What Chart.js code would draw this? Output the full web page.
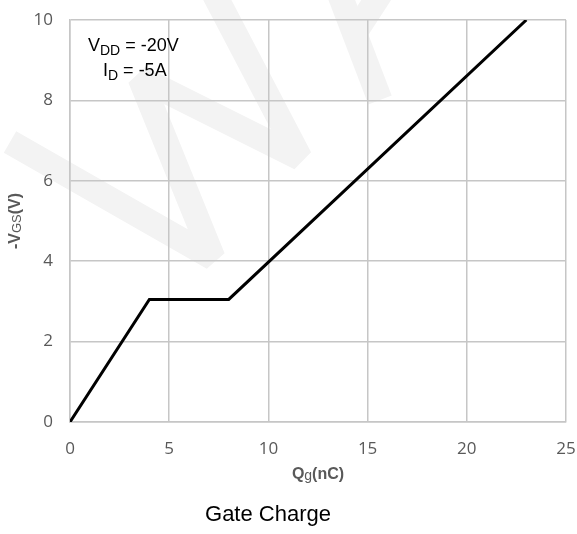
<!DOCTYPE html>
<html><head><meta charset="utf-8">
<script src="https://cdn.jsdelivr.net/npm/chart.js@4.4.0/dist/chart.umd.min.js"></script>
<style>html,body{margin:0;padding:0;background:#fff}#wrap{position:relative;width:577px;height:534px}</style>
</head><body><div id="wrap"><canvas id="c"></canvas></div>
<script>
// ---- data ----
const qg = [0, 4, 8, 23];          // gate charge, nC
const vgs = [0, 3.05, 3.05, 10];   // -VGS, V
const xTicks = [0, 5, 10, 15, 20, 25];
const yTicks = [0, 2, 4, 6, 8, 10];
const chartTitle = 'Gate Charge';
const xTitle = [['Q', false], ['g', true], ['(nC)', false]];
const yTitle = [['-V', false], ['GS', true], ['(V)', false]];
const note1 = [['V', false], ['DD', true], [' = -20V', false]];
const note2 = [['I', false], ['D', true], [' = -5A', false]];

const GRID = '#c6c6c6';
const TICKC = '#595959';

function richWidth(ctx, parts, size, bold, fam, ratio) {
  let w = 0;
  for (const [t, sub] of parts) {
    ctx.font = (bold && !sub ? 'bold ' : '') + (sub ? Math.round(size * ratio) : size) + 'px ' + fam;
    w += ctx.measureText(t).width;
  }
  return w;
}
function drawRich(ctx, parts, x, y, size, bold, fam, color, ratio, drop) {
  ctx.fillStyle = color;
  ctx.textBaseline = 'alphabetic';
  ctx.textAlign = 'left';
  let cx = x;
  for (const [t, sub] of parts) {
    const s = sub ? Math.round(size * ratio) : size;
    ctx.font = ((bold && !sub) ? 'bold ' : '') + s + 'px ' + fam;
    ctx.fillText(t, cx, sub ? y + size * drop : y);
    cx += ctx.measureText(t).width;
  }
}

const watermark = {
  id: 'watermark',
  beforeDraw(chart) {
    const ctx = chart.ctx;
    ctx.save();
    ctx.strokeStyle = '#f3f3f3';
    ctx.lineWidth = 25;
    ctx.lineJoin = 'bevel';
    ctx.lineCap = 'butt';
    ctx.beginPath();
    ctx.moveTo(10, 142); ctx.lineTo(213, 258); ctx.lineTo(140, 78); ctx.lineTo(300, 158); ctx.lineTo(210, -14);
    ctx.stroke();
    ctx.beginPath();
    ctx.moveTo(338, -10); ctx.lineTo(380, 100);
    ctx.stroke();
    ctx.beginPath();
    ctx.moveTo(358, 28); ctx.lineTo(384, -12);
    ctx.stroke();
    ctx.restore();
  }
};

const texts = {
  id: 'texts',
  afterDraw(chart) {
    const ctx = chart.ctx;
    const a = chart.chartArea;
    ctx.save();
    const fam = '"Liberation Sans", Arial, sans-serif';
    // x title
    let w = richWidth(ctx, xTitle, 16, true, fam, 0.85);
    drawRich(ctx, xTitle, (a.left + a.right) / 2 - w / 2, 479, 16, true, fam, TICKC, 0.85, 0.08);
    // y title
    ctx.save();
    ctx.translate(20, (a.top + a.bottom) / 2);
    ctx.rotate(-Math.PI / 2);
    w = richWidth(ctx, yTitle, 16, true, fam, 0.8);
    drawRich(ctx, yTitle, -w / 2, 0, 16, true, fam, TICKC, 0.8, 0.08);
    ctx.restore();
    // chart title
    ctx.font = '22px ' + fam;
    ctx.fillStyle = '#000';
    ctx.textAlign = 'center';
    ctx.textBaseline = 'alphabetic';
    ctx.fillText(chartTitle, 268, 521);
    // annotation
    drawRich(ctx, note1, 88, 51, 18, false, fam, '#000', 0.75, 0.2);
    drawRich(ctx, note2, 103, 76, 18, false, fam, '#000', 0.75, 0.2);
    ctx.restore();
  }
};

new Chart(document.getElementById('c'), {
  type: 'scatter',
  data: {
    datasets: [{
      data: qg.map((x, i) => ({ x: x, y: vgs[i] })),
      showLine: true,
      borderColor: '#000',
      borderWidth: 3,
      pointRadius: 0,
      fill: false,
      tension: 0
    }]
  },
  options: {
    responsive: true,
    maintainAspectRatio: false,
    devicePixelRatio: 1,
    animation: false,
    layout: { padding: { top: 20, right: 11, left: 0, bottom: 0 } },
    plugins: { legend: { display: false }, tooltip: { enabled: false } },
    scales: {
      x: {
        type: 'linear', min: 0, max: 25,
        afterBuildTicks: s => { s.ticks = xTicks.map(v => ({ value: v })); },
        afterFit: s => { s.height = 112; s.paddingLeft = 0; s.paddingRight = 0; },
        grid: { color: GRID, lineWidth: 1.5, drawTicks: false },
        border: { color: GRID, width: 1.5 },
        ticks: { color: TICKC, padding: 17, font: { family: '"Open Sans", sans-serif', size: 17 }, maxRotation: 0 }
      },
      y: {
        type: 'linear', min: 0, max: 10,
        afterBuildTicks: s => { s.ticks = yTicks.map(v => ({ value: v })); },
        afterFit: s => { s.width = 70; s.paddingTop = 0; s.paddingBottom = 0; },
        grid: { color: GRID, lineWidth: 1.5, drawTicks: false },
        border: { color: GRID, width: 1.5 },
        ticks: { color: TICKC, padding: 17, font: { family: '"Open Sans", sans-serif', size: 17 } }
      }
    }
  },
  plugins: [watermark, texts]
});
</script></body></html>
